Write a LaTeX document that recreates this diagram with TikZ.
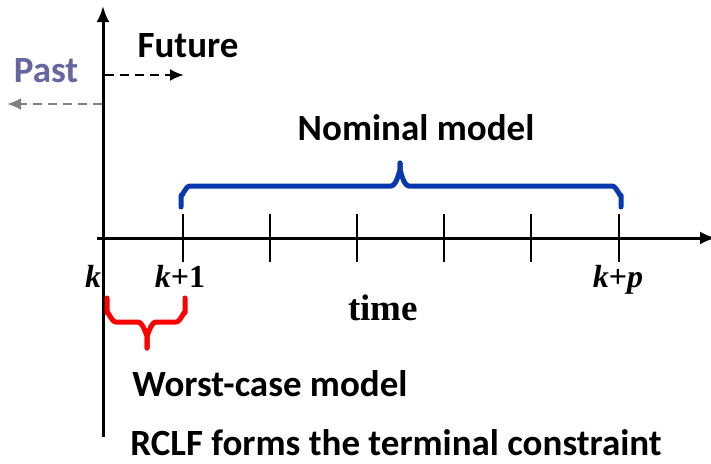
\documentclass[tikz,border=0pt]{standalone}
\usepackage{fontspec}
\setmainfont{Liberation Serif}
\newfontfamily\calibfont{Carlito}
\usetikzlibrary{arrows.meta}
\definecolor{nomblue}{RGB}{8,56,176}
\definecolor{pastcol}{RGB}{102,102,160}
\definecolor{pastarrow}{RGB}{128,128,128}
\tikzset{
  axisline/.style={line width=3pt,-{Latex[length=16pt,width=13pt]}},
  tickline/.style={line width=2.4pt},
  sanslabel/.style={font=\calibfont\bfseries\fontsize{37}{40}\selectfont,inner sep=0pt,anchor=base},
  mathlabel/.style={font=\bfseries\fontsize{32}{36}\selectfont,inner sep=0pt,anchor=base},
  bracepath/.style={line width=5pt,line cap=round,line join=round},
  dasharrow/.style={line width=2.6pt,dash pattern=on 9pt off 6pt,-{Latex[length=14pt,width=12pt]}}
}
\begin{document}
\begin{tikzpicture}[x=1pt,y=-1pt]
\useasboundingbox (0,0) rectangle (711,463);
% axes
\coordinate (vb) at (103,437);
\coordinate (vt) at (103,6);
\coordinate (hl) at (97,238);
\coordinate (hr) at (716,238);
\draw[axisline] (vb) -- (vt);
\draw[axisline] (hl) -- (hr);
% ticks
\foreach \x/\n in {183/t1,270/t2,357/t3,444/t4,531/t5,619/t6}{
  \coordinate (\n a) at (\x,214);
  \coordinate (\n b) at (\x,262);
  \draw[tickline] (\n a) -- (\n b);
}
% dashed arrows
\coordinate (fs) at (105,75);
\coordinate (fe) at (184,75);
\draw[dasharrow] (fs) -- (fe);
\coordinate (ps) at (102,104);
\coordinate (pe) at (7,104);
\draw[dasharrow,pastarrow] (ps) -- (pe);
% blue brace
\coordinate (b1) at (181,207);
\coordinate (b2) at (400,163);
\coordinate (b3) at (621,207);
\draw[bracepath,nomblue] (b1) -- (181,195) to[out=-90,in=180] (190,186) -- (391,186) to[out=0,in=90] (400,172) -- (b2);
\draw[bracepath,nomblue] (b2) -- (400,172) to[out=90,in=180] (409,186) -- (612,186) to[out=0,in=-90] (621,195) -- (b3);
% red brace
\coordinate (r1) at (107,298);
\coordinate (r2) at (147,348);
\coordinate (r3) at (185,298);
\draw[bracepath,red] (r1) -- (107,313) to[out=90,in=180] (116,322) -- (138,322) to[out=0,in=-90] (147,334) -- (r2);
\draw[bracepath,red] (r2) -- (147,334) to[out=-90,in=180] (156,322) -- (176,322) to[out=0,in=90] (185,313) -- (r3);
% labels
\node[sanslabel] (future) at (188,57) {Future};
\node[sanslabel,text=pastcol] (past) at (46,82) {Past};
\node[sanslabel] (nominal) at (416,140) {Nominal model};
\node[sanslabel] (worst) at (270,396) {Worst-case model};
\node[sanslabel] (rclf) at (396,455) {RCLF forms the terminal constraint};
\node[mathlabel] (k) at (93,287) {\textit{k}};
\node[mathlabel] (k1) at (180,287) {\textit{k}+1};
\node[mathlabel] (kp) at (618,287) {\textit{k}+\textit{p}};
\node[mathlabel,font=\bfseries\fontsize{37}{40}\selectfont] (time) at (383,320) {time};
\end{tikzpicture}
\end{document}
